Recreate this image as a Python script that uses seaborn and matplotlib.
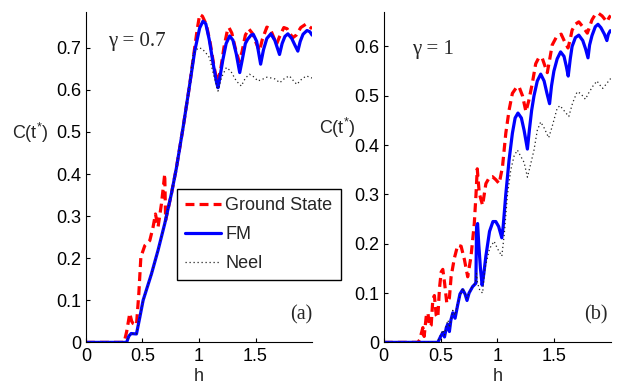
import numpy as np
import pandas as pd
import matplotlib
matplotlib.use("Agg")
import matplotlib.pyplot as plt
import seaborn as sns

# ---- panel (a): gamma = 0.7 ----
h_gs_a = [0, 0.338, 0.36, 0.388, 0.405, 0.417, 0.447, 0.468, 0.486, 0.521, 0.565, 0.594,
          0.615, 0.638, 0.668, 0.697, 0.705, 0.756, 0.80, 0.859, 0.918, 0.962, 0.985, 1.006,
          1.03, 1.065, 1.10, 1.13, 1.16, 1.19, 1.22, 1.25, 1.265, 1.29, 1.32, 1.355, 1.38,
          1.41, 1.44, 1.47, 1.50, 1.535, 1.56, 1.60, 1.63, 1.66, 1.685, 1.71, 1.75, 1.78,
          1.80, 1.83, 1.86, 1.90, 1.945, 1.97, 2.0]
c_gs_a = [0, 0, 0.025, 0.069, 0.05, 0.045, 0.041, 0.116, 0.203, 0.23, 0.242, 0.274,
          0.305, 0.274, 0.329, 0.40, 0.29, 0.353, 0.414, 0.51, 0.613, 0.70, 0.745, 0.779,
          0.775, 0.755, 0.71, 0.66, 0.618, 0.645, 0.70, 0.74, 0.748, 0.735, 0.70, 0.667, 0.69,
          0.73, 0.745, 0.735, 0.715, 0.692, 0.72, 0.749, 0.745, 0.725, 0.708, 0.725, 0.748, 0.745,
          0.735, 0.724, 0.73, 0.748, 0.756, 0.752, 0.745]

h_fm_a = [0, 0.36, 0.38, 0.40, 0.447, 0.477, 0.506, 0.58, 0.638, 0.697, 0.756, 0.80,
          0.859, 0.918, 0.962, 1.006, 1.035, 1.06, 1.09, 1.13, 1.155, 1.168, 1.18, 1.21,
          1.24, 1.271, 1.30, 1.33, 1.36, 1.38, 1.41, 1.43, 1.46, 1.48, 1.51, 1.545, 1.57,
          1.60, 1.635, 1.67, 1.712, 1.735, 1.76, 1.786, 1.82, 1.85, 1.874, 1.895, 1.92,
          1.955, 1.98, 2.0]
c_fm_a = [0, 0, 0.015, 0.021, 0.02, 0.06, 0.10, 0.163, 0.219, 0.282, 0.353, 0.414,
          0.51, 0.613, 0.692, 0.747, 0.763, 0.757, 0.72, 0.655, 0.618, 0.605, 0.622, 0.67,
          0.71, 0.728, 0.718, 0.685, 0.641, 0.668, 0.71, 0.72, 0.73, 0.732, 0.715, 0.661, 0.695,
          0.722, 0.733, 0.718, 0.684, 0.71, 0.727, 0.733, 0.722, 0.705, 0.692, 0.715, 0.732,
          0.741, 0.738, 0.73]

h_ne_a = [0, 0.36, 0.38, 0.40, 0.447, 0.477, 0.506, 0.58, 0.638, 0.697, 0.756, 0.80,
          0.859, 0.918, 0.947, 0.975, 1.0, 1.03, 1.06, 1.094, 1.124, 1.168, 1.20, 1.242,
          1.28, 1.33, 1.374, 1.41, 1.447, 1.49, 1.52, 1.56, 1.60, 1.624, 1.67, 1.715, 1.76,
          1.80, 1.84, 1.865, 1.91, 1.95, 2.0]
c_ne_a = [0, 0, 0.015, 0.021, 0.02, 0.06, 0.10, 0.163, 0.219, 0.282, 0.353, 0.414,
          0.51, 0.613, 0.684, 0.695, 0.70, 0.697, 0.688, 0.676, 0.641, 0.597, 0.63, 0.653,
          0.645, 0.621, 0.609, 0.628, 0.637, 0.63, 0.621, 0.625, 0.63, 0.629, 0.626, 0.617, 0.628,
          0.633, 0.62, 0.613, 0.626, 0.633, 0.628]

# ---- panel (b): gamma = 1 ----
h_gs_b = [0, 0.30, 0.315, 0.33, 0.344, 0.355, 0.373, 0.388, 0.402, 0.417, 0.431, 0.445,
          0.461, 0.475, 0.49, 0.505, 0.519, 0.535, 0.554, 0.577, 0.592, 0.62, 0.65, 0.68,
          0.709, 0.738, 0.767, 0.796, 0.811, 0.822, 0.84, 0.869, 0.898, 0.93, 0.956, 0.985,
          1.015, 1.044, 1.073, 1.102, 1.131, 1.17, 1.19, 1.22, 1.25, 1.275, 1.306, 1.336,
          1.365, 1.394, 1.415, 1.438, 1.46, 1.481, 1.52, 1.56, 1.59, 1.62, 1.64, 1.656,
          1.685, 1.715, 1.75, 1.79, 1.81, 1.831, 1.86, 1.89, 1.92, 1.962, 1.98, 1.995]
c_gs_b = [0, 0, 0.005, 0.018, 0.03, 0.012, 0.052, 0.06, 0.032, 0.035, 0.086, 0.095,
          0.055, 0.05, 0.11, 0.143, 0.148, 0.12, 0.08, 0.09, 0.133, 0.17, 0.197, 0.195,
          0.168, 0.133, 0.174, 0.241, 0.30, 0.352, 0.302, 0.278, 0.322, 0.335, 0.336, 0.33,
          0.322, 0.356, 0.424, 0.471, 0.505, 0.518, 0.518, 0.50, 0.468, 0.49, 0.525, 0.565,
          0.578, 0.576, 0.562, 0.547, 0.575, 0.603, 0.62, 0.625, 0.61, 0.597, 0.615, 0.633,
          0.645, 0.65, 0.64, 0.627, 0.64, 0.654, 0.665, 0.667, 0.662, 0.65, 0.658, 0.663]

h_fm_b = [0, 0.475, 0.50, 0.519, 0.534, 0.55, 0.563, 0.577, 0.59, 0.607, 0.627, 0.65,
          0.67, 0.694, 0.715, 0.732, 0.75, 0.781, 0.802, 0.81, 0.816, 0.825, 0.835, 0.85,
          0.865, 0.88, 0.898, 0.93, 0.96, 0.985, 1.01, 1.038, 1.05, 1.073, 1.102, 1.131,
          1.155, 1.18, 1.21, 1.234, 1.263, 1.28, 1.30, 1.321, 1.35, 1.38, 1.41, 1.435,
          1.458, 1.475, 1.496, 1.525, 1.555, 1.585, 1.605, 1.622, 1.64, 1.656, 1.685, 1.715,
          1.75, 1.775, 1.796, 1.81, 1.831, 1.86, 1.884, 1.91, 1.94, 1.962, 1.975, 1.992]
c_fm_b = [0, 0, 0.012, 0.02, 0.011, 0.03, 0.037, 0.022, 0.045, 0.06, 0.049, 0.076,
          0.098, 0.107, 0.098, 0.085, 0.10, 0.113, 0.118, 0.12, 0.234, 0.241, 0.20, 0.15,
          0.116, 0.14, 0.175, 0.225, 0.245, 0.245, 0.235, 0.212, 0.235, 0.30, 0.37, 0.424,
          0.455, 0.465, 0.455, 0.43, 0.392, 0.43, 0.47, 0.50, 0.53, 0.544, 0.53, 0.505,
          0.484, 0.52, 0.55, 0.575, 0.589, 0.58, 0.56, 0.54, 0.575, 0.60, 0.618, 0.623,
          0.612, 0.595, 0.577, 0.603, 0.622, 0.64, 0.645, 0.638, 0.625, 0.612, 0.625, 0.632]

h_ne_b = [0, 0.47, 0.50, 0.52, 0.535, 0.55, 0.565, 0.58, 0.607, 0.627, 0.65, 0.694,
          0.732, 0.781, 0.805, 0.815, 0.825, 0.845, 0.869, 0.89, 0.93, 0.97, 1.0, 1.038,
          1.06, 1.088, 1.117, 1.146, 1.175, 1.21, 1.234, 1.263, 1.29, 1.321, 1.35, 1.38,
          1.41, 1.45, 1.48, 1.525, 1.55, 1.585, 1.627, 1.66, 1.70, 1.73, 1.773, 1.80,
          1.84, 1.875, 1.90, 1.925, 1.95, 1.995]
c_ne_b = [0, 0, 0.015, 0.025, 0.015, 0.035, 0.045, 0.03, 0.065, 0.055, 0.08, 0.11,
          0.09, 0.115, 0.12, 0.14, 0.12, 0.105, 0.10, 0.15, 0.19, 0.205, 0.19, 0.175,
          0.22, 0.30, 0.35, 0.378, 0.39, 0.375, 0.365, 0.335, 0.36, 0.39, 0.43, 0.447,
          0.435, 0.415, 0.437, 0.475, 0.48, 0.47, 0.458, 0.485, 0.508, 0.505, 0.493, 0.505,
          0.52, 0.53, 0.522, 0.515, 0.522, 0.535]

sns.set_style("ticks")
sans = ["Liberation Sans", "DejaVu Sans"]
serif = ["Liberation Serif", "DejaVu Serif"]
plt.rcParams["font.family"] = sans
plt.rcParams["mathtext.fontset"] = "custom"
plt.rcParams["mathtext.rm"] = "Liberation Sans"
plt.rcParams["mathtext.it"] = "Liberation Sans"
plt.rcParams["xtick.direction"] = "in"
plt.rcParams["ytick.direction"] = "in"

FS = 13
fig = plt.figure(figsize=(6.18, 3.86), dpi=100)
ax_a = fig.add_axes([0.139, 0.113, 0.366, 0.856])
ax_b = fig.add_axes([0.621, 0.113, 0.368, 0.856])

def draw(ax, hg, cg, hf, cf, hn, cn):
    sns.lineplot(data=pd.DataFrame({"h": hg, "C": cg}), x="h", y="C", ax=ax,
                 color="#ff0000", lw=2.3, linestyle=(0, (2.8, 1.6)),
                 estimator=None, sort=False, label="Ground State")
    sns.lineplot(data=pd.DataFrame({"h": hf, "C": cf}), x="h", y="C", ax=ax,
                 color="#0000ff", lw=2.3, linestyle="-",
                 estimator=None, sort=False, label="FM")
    sns.lineplot(data=pd.DataFrame({"h": hn, "C": cn}), x="h", y="C", ax=ax,
                 color="#222222", lw=0.9, linestyle=(0, (1, 2.2)),
                 estimator=None, sort=False, label="Neel")
    ax.set_xlim(0, 2.0)
    ax.set_xticks([0, 0.5, 1, 1.5])
    ax.set_xticklabels(["0", "0.5", "1", "1.5"])
    ax.tick_params(labelsize=FS, length=3, width=0.8, colors="black")
    ax.tick_params(axis="x", pad=4)
    ax.set_xlabel("h", fontsize=FS, labelpad=2)
    ax.set_ylabel(r"C(t$^{*}$)", fontsize=FS, rotation=0, va="center", ha="center")
    for s in ("left", "bottom"):
        ax.spines[s].set_linewidth(0.8)
        ax.spines[s].set_color("black")
    sns.despine(ax=ax)
    ax.get_legend().remove()

draw(ax_a, h_gs_a, c_gs_a, h_fm_a, c_fm_a, h_ne_a, c_ne_a)
draw(ax_b, h_gs_b, c_gs_b, h_fm_b, c_fm_b, h_ne_b, c_ne_b)

ax_a.set_ylim(0, 0.785)
ax_a.set_yticks(np.arange(0, 0.71, 0.1))
ax_a.set_yticklabels(["0", "0.1", "0.2", "0.3", "0.4", "0.5", "0.6", "0.7"])
ax_a.yaxis.set_label_coords(-0.245, 0.635)

ax_b.set_ylim(0, 0.67)
ax_b.set_yticks(np.arange(0, 0.61, 0.1))
ax_b.set_yticklabels(["0", "0.1", "0.2", "0.3", "0.4", "0.5", "0.6"])
ax_b.yaxis.set_label_coords(-0.205, 0.65)

ax_a.text(0.097, 0.91, "γ = 0.7", transform=ax_a.transAxes, family=serif,
          fontsize=15, ha="left", va="center")
ax_b.text(0.123, 0.887, "γ = 1", transform=ax_b.transAxes, family=serif,
          fontsize=15, ha="left", va="center")
ax_a.text(1.0, 0.083, "(a)", transform=ax_a.transAxes, family=serif,
          fontsize=14.5, ha="right", va="center")
ax_b.text(0.985, 0.083, "(b)", transform=ax_b.transAxes, family=serif,
          fontsize=14.5, ha="right", va="center")

handles, labels = ax_a.get_legend_handles_labels()
leg = fig.legend(handles, labels, loc="upper left", bbox_to_anchor=(0.286, 0.510),
                 bbox_transform=fig.transFigure, fontsize=FS, frameon=True,
                 fancybox=False, framealpha=1, edgecolor="black",
                 handlelength=2.0, handletextpad=0.25, borderpad=0.45,
                 labelspacing=0.66, borderaxespad=0)
leg.get_frame().set_linewidth(1.0)

fig.savefig("out.png", dpi=100)
